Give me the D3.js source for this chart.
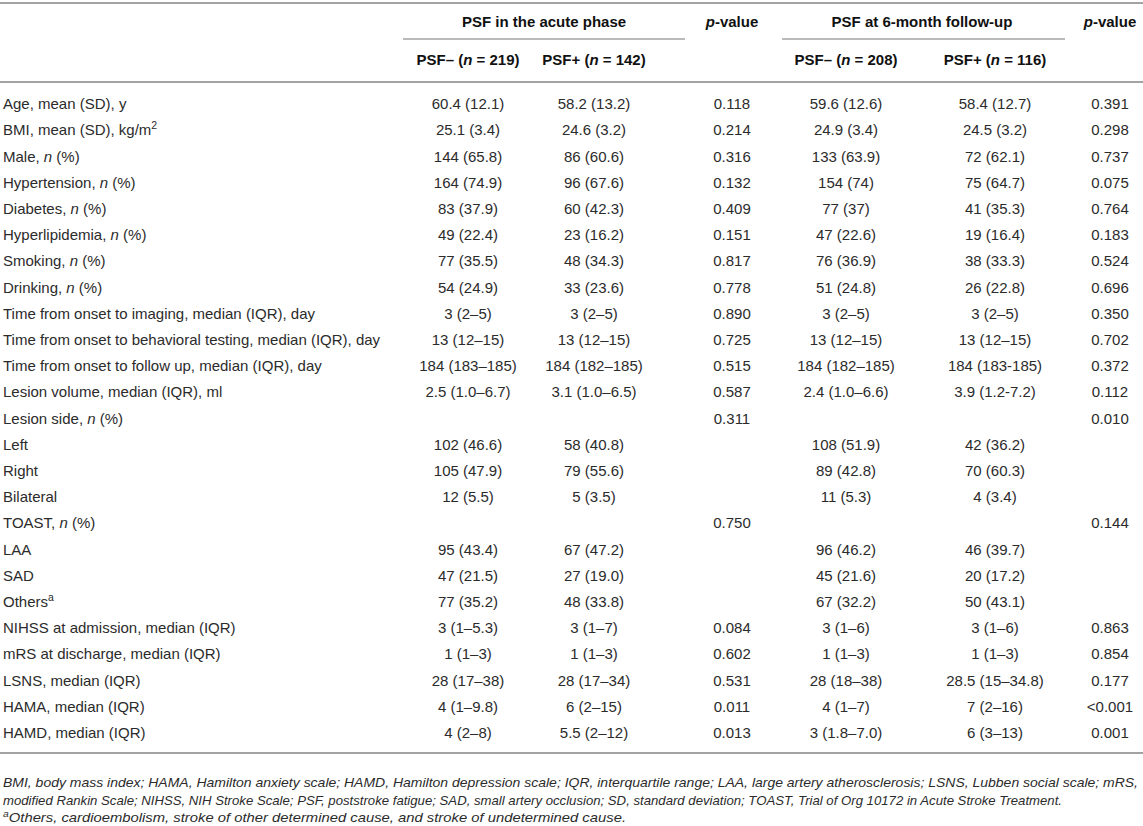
<!DOCTYPE html>
<html>
<head>
<meta charset="utf-8">
<script src="https://cdn.jsdelivr.net/npm/d3@7"></script>
<style>
  body { margin: 0; background: #fff; }
  svg { display: block; font-family: "Liberation Sans", Arial, sans-serif; }
</style>
</head>
<body>
<svg id="chart"></svg>
<script>
// *x* = italic, ^x^ = superscript
const rowLabels = [
  "Age, mean (SD), y", "BMI, mean (SD), kg/m^2^", "Male, *n* (%)", "Hypertension, *n* (%)",
  "Diabetes, *n* (%)", "Hyperlipidemia, *n* (%)", "Smoking, *n* (%)", "Drinking, *n* (%)",
  "Time from onset to imaging, median (IQR), day",
  "Time from onset to behavioral testing, median (IQR), day",
  "Time from onset to follow up, median (IQR), day",
  "Lesion volume, median (IQR), ml", "Lesion side, *n* (%)", "Left", "Right", "Bilateral",
  "TOAST, *n* (%)", "LAA", "SAD", "Others^a^",
  "NIHSS at admission, median (IQR)", "mRS at discharge, median (IQR)",
  "LSNS, median (IQR)", "HAMA, median (IQR)", "HAMD, median (IQR)"
];
const acuteNeg = ["60.4 (12.1)", "25.1 (3.4)", "144 (65.8)", "164 (74.9)", "83 (37.9)", "49 (22.4)", "77 (35.5)", "54 (24.9)",
  "3 (2–5)", "13 (12–15)", "184 (183–185)", "2.5 (1.0–6.7)", "", "102 (46.6)", "105 (47.9)", "12 (5.5)",
  "", "95 (43.4)", "47 (21.5)", "77 (35.2)", "3 (1–5.3)", "1 (1–3)", "28 (17–38)", "4 (1–9.8)", "4 (2–8)"];
const acutePos = ["58.2 (13.2)", "24.6 (3.2)", "86 (60.6)", "96 (67.6)", "60 (42.3)", "23 (16.2)", "48 (34.3)", "33 (23.6)",
  "3 (2–5)", "13 (12–15)", "184 (182–185)", "3.1 (1.0–6.5)", "", "58 (40.8)", "79 (55.6)", "5 (3.5)",
  "", "67 (47.2)", "27 (19.0)", "48 (33.8)", "3 (1–7)", "1 (1–3)", "28 (17–34)", "6 (2–15)", "5.5 (2–12)"];
const acuteP = ["0.118", "0.214", "0.316", "0.132", "0.409", "0.151", "0.817", "0.778",
  "0.890", "0.725", "0.515", "0.587", "0.311", "", "", "",
  "0.750", "", "", "", "0.084", "0.602", "0.531", "0.011", "0.013"];
const followNeg = ["59.6 (12.6)", "24.9 (3.4)", "133 (63.9)", "154 (74)", "77 (37)", "47 (22.6)", "76 (36.9)", "51 (24.8)",
  "3 (2–5)", "13 (12–15)", "184 (182–185)", "2.4 (1.0–6.6)", "", "108 (51.9)", "89 (42.8)", "11 (5.3)",
  "", "96 (46.2)", "45 (21.6)", "67 (32.2)", "3 (1–6)", "1 (1–3)", "28 (18–38)", "4 (1–7)", "3 (1.8–7.0)"];
const followPos = ["58.4 (12.7)", "24.5 (3.2)", "72 (62.1)", "75 (64.7)", "41 (35.3)", "19 (16.4)", "38 (33.3)", "26 (22.8)",
  "3 (2–5)", "13 (12–15)", "184 (183-185)", "3.9 (1.2-7.2)", "", "42 (36.2)", "70 (60.3)", "4 (3.4)",
  "", "46 (39.7)", "20 (17.2)", "50 (43.1)", "3 (1–6)", "1 (1–3)", "28.5 (15–34.8)", "7 (2–16)", "6 (3–13)"];
const followP = ["0.391", "0.298", "0.737", "0.075", "0.764", "0.183", "0.524", "0.696",
  "0.350", "0.702", "0.372", "0.112", "0.010", "", "", "",
  "0.144", "", "", "", "0.863", "0.854", "0.177", "<0.001", "0.001"];

const groupHeaders = ["PSF in the acute phase", "*p*-value", "PSF at 6-month follow-up", "*p*-value"];
const subHeaders = ["PSF– (*n* = 219)", "PSF+ (*n* = 142)", "PSF– (*n* = 208)", "PSF+ (*n* = 116)"];
const footnotes = [
  "BMI, body mass index; HAMA, Hamilton anxiety scale; HAMD, Hamilton depression scale; IQR, interquartile range; LAA, large artery atherosclerosis; LSNS, Lubben social scale; mRS,",
  "modified Rankin Scale; NIHSS, NIH Stroke Scale; PSF, poststroke fatigue; SAD, small artery occlusion; SD, standard deviation; TOAST, Trial of Org 10172 in Acute Stroke Treatment.",
  "^a^Others, cardioembolism, stroke of other determined cause, and stroke of undetermined cause."
];

const width = 1143, height = 826;
const svg = d3.select("#chart").attr("width", width).attr("height", height);

const columns = [
  { key: "aNeg", values: acuteNeg },
  { key: "aPos", values: acutePos },
  { key: "aP", values: acuteP },
  { key: "fNeg", values: followNeg },
  { key: "fPos", values: followPos },
  { key: "fP", values: followP }
];

const x = d3.scaleOrdinal()
  .domain(columns.map(c => c.key))
  .range([468, 594, 732, 846, 995, 1110]);

const y = d3.scaleBand()
  .domain(d3.range(rowLabels.length))
  .range([91, 746]);

const textColor = "#2b2b2b";
const ruleColor = "#a3a3a3";

// write a string with *italic* and ^sup^ parts into a text node
function rich(sel, str) {
  const parts = str.split(/(\*[^*]+\*|\^[^^]+\^)/).filter(s => s.length);
  parts.forEach(p => {
    if (p[0] === "*") {
      sel.append("tspan").style("font-style", "italic").text(p.slice(1, -1));
    } else if (p[0] === "^") {
      sel.append("tspan").attr("baseline-shift", "super").style("font-size", "0.7em").text(p.slice(1, -1));
    } else {
      sel.append("tspan").text(p);
    }
  });
}

// rules
const rules = [
  { x1: 0, x2: width, y: 3, w: 2 },
  { x1: 403, x2: 685, y: 39, w: 1.5 },
  { x1: 782, x2: 1065, y: 39, w: 1.5 },
  { x1: 0, x2: width, y: 82, w: 2 },
  { x1: 0, x2: width, y: 753, w: 2 }
];
svg.selectAll("line.rule").data(rules).enter().append("line")
  .attr("class", "rule")
  .attr("x1", d => d.x1).attr("x2", d => d.x2)
  .attr("y1", d => d.y).attr("y2", d => d.y)
  .attr("stroke", ruleColor).attr("stroke-width", d => d.w);

// header row 1
const groupX = [544, 732, 922, 1110];
svg.selectAll("text.group").data(groupHeaders).enter().append("text")
  .attr("class", "group")
  .attr("x", (d, i) => groupX[i]).attr("y", 27)
  .attr("text-anchor", "middle")
  .style("font-size", "15px").style("font-weight", "bold").attr("fill", "#111")
  .each(function(d) { rich(d3.select(this), d); });

// header row 2
const subKeys = ["aNeg", "aPos", "fNeg", "fPos"];
svg.selectAll("text.sub").data(subHeaders).enter().append("text")
  .attr("class", "sub")
  .attr("x", (d, i) => x(subKeys[i])).attr("y", 65)
  .attr("text-anchor", "middle")
  .style("font-size", "15px").style("font-weight", "bold").attr("fill", "#111")
  .each(function(d) { rich(d3.select(this), d); });

// row labels
svg.selectAll("text.label").data(rowLabels).enter().append("text")
  .attr("class", "label")
  .attr("x", 3).attr("y", (d, i) => y(i) + y.bandwidth() / 2 + 5)
  .style("font-size", "15px").attr("fill", textColor)
  .each(function(d) { rich(d3.select(this), d); });

// cells (empty cells are skipped)
const cols = svg.selectAll("g.col").data(columns).enter().append("g").attr("class", "col");
cols.selectAll("text")
  .data(c => c.values.map((v, i) => ({ key: c.key, v: v, row: i })).filter(d => d.v !== ""))
  .enter().append("text")
  .attr("x", d => x(d.key))
  .attr("y", d => y(d.row) + y.bandwidth() / 2 + 5)
  .attr("text-anchor", "middle")
  .style("font-size", "15px").attr("fill", textColor)
  .text(d => d.v);

// footnotes
const footWidths = [1135, 1059, 623];
svg.selectAll("text.foot").data(footnotes).enter().append("text")
  .attr("class", "foot")
  .attr("x", 3).attr("y", (d, i) => 787 + i * 17.5)
  .style("font-size", "13px").style("font-style", "italic").attr("fill", textColor)
  .attr("textLength", (d, i) => footWidths[i])
  .attr("lengthAdjust", "spacingAndGlyphs")
  .each(function(d) { rich(d3.select(this), d); });
</script>
</body>
</html>
